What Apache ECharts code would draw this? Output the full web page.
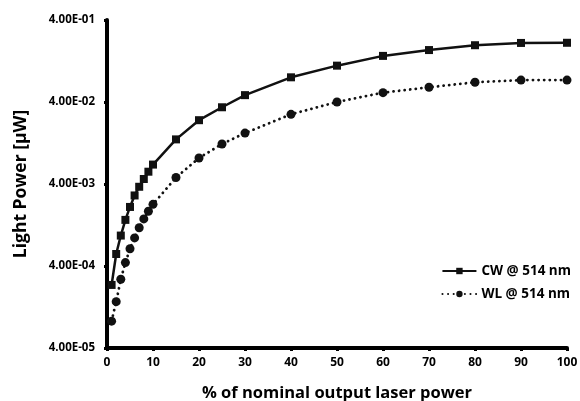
<!DOCTYPE html>
<html>
<head>
<meta charset="utf-8">
<script src="https://cdn.jsdelivr.net/npm/echarts@6/dist/echarts.min.js"></script>
<style>html,body{margin:0;padding:0;background:#fff}#c{width:580px;height:401px}</style>
</head>
<body>
<div id="c"></div>
<script>
const xValues = [1,2,3,4,5,6,7,8,9,10,15,20,25,30,40,50,60,70,80,90,100];
const cwValues = [2.35e-4,5.6e-4,9.4e-4,1.46e-3,2.1e-3,2.9e-3,3.7e-3,4.6e-3,5.65e-3,6.9e-3,1.4e-2,2.4e-2,3.45e-2,4.85e-2,8.0e-2,1.11e-1,1.46e-1,1.72e-1,1.97e-1,2.1e-1,2.11e-1];
const wlValues = [8.5e-5,1.47e-4,2.76e-4,4.4e-4,6.5e-4,8.8e-4,1.17e-3,1.5e-3,1.86e-3,2.26e-3,4.8e-3,8.3e-3,1.23e-2,1.67e-2,2.83e-2,4.0e-2,5.2e-2,6.05e-2,6.96e-2,7.4e-2,7.4e-2];
const yTicks = [4e-5,4e-4,4e-3,4e-2,4e-1];
const xTitle = '% of nominal output laser power';
const yTitle = 'Light Power [\u00b5W]';
const seriesNames = ['CW @ 514 nm','WL @ 514 nm'];

function fmt(v){
  const e = Math.round(Math.log10(v/4));
  const s = e < 0 ? '-' : '+';
  const a = Math.abs(e);
  return '4.00E' + s + (a < 10 ? '0' + a : a);
}
const font = 'Open Sans';
const chart = echarts.init(document.getElementById('c'));
chart.setOption({
  animation:false,
  backgroundColor:'#fff',
  grid:{left:107,right:13,top:20,bottom:53,containLabel:false,outerBoundsMode:'none'},
  legend:{
    orient:'vertical', right:4, top:259, itemGap:9, itemWidth:34, itemHeight:8,
    textStyle:{fontFamily:font,fontWeight:'bold',fontSize:13.5,color:'#000'},
    data:seriesNames
  },
  xAxis:{
    type:'value',min:0,max:100,interval:10,
    name:xTitle,nameLocation:'middle',nameGap:37,
    nameTextStyle:{fontFamily:font,fontWeight:'bold',fontSize:16.5,color:'#000'},
    axisLine:{lineStyle:{color:'#000',width:4}},
    axisTick:{length:3,lineStyle:{color:'#000',width:3}},
    axisLabel:{fontFamily:font,fontWeight:'bold',fontSize:12,color:'#000',margin:9},
    splitLine:{show:false}
  },
  yAxis:{
    type:'log',logBase:10,min:4e-5,max:4e-1,
    name:yTitle,nameLocation:'middle',nameGap:77,
    nameTextStyle:{fontFamily:font,fontWeight:'bold',fontSize:17.5,color:'#000'},
    axisLine:{lineStyle:{color:'#000',width:4}},
    axisTick:{length:3,lineStyle:{color:'#000',width:3},customValues:yTicks},
    axisLabel:{fontFamily:font,fontWeight:'bold',fontSize:11.5,color:'#000',margin:12,customValues:yTicks,formatter:fmt},
    splitLine:{show:false},
    minorSplitLine:{show:false}
  },
  series:[
    {name:seriesNames[0],type:'line',data:xValues.map((x,i)=>[x,cwValues[i]]),
     symbol:'rect',symbolSize:8,itemStyle:{color:'#111'},
     lineStyle:{color:'#111',width:2.5}},
    {name:seriesNames[1],type:'line',data:xValues.map((x,i)=>[x,wlValues[i]]),
     symbol:'circle',symbolSize:9,itemStyle:{color:'#111'},
     lineStyle:{color:'#111',width:2.8,type:[0.1,5.5],cap:'round'}}
  ]
});
</script>
</body>
</html>
